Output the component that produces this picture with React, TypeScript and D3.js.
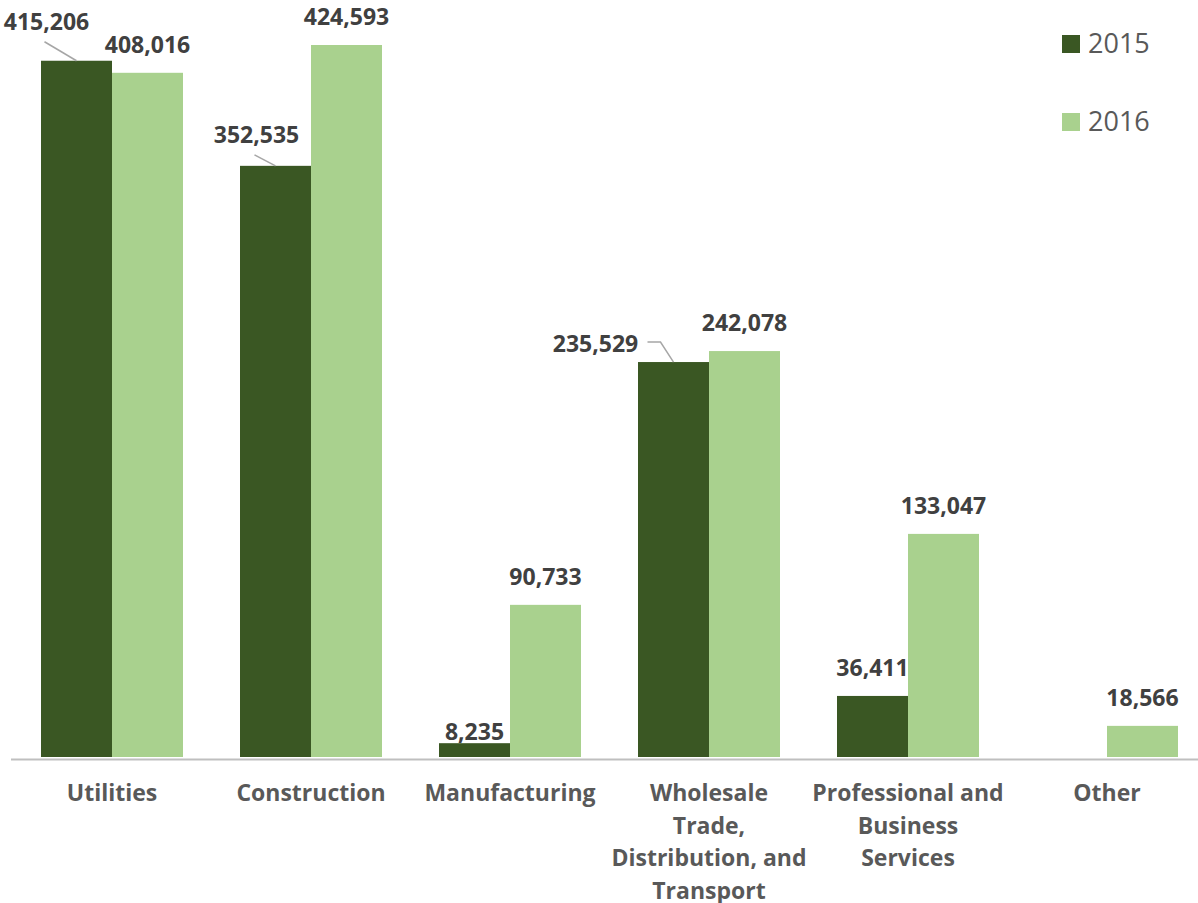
import React from "react";
import * as d3 from "d3";

const categories: string[][] = [
  ["Utilities"],
  ["Construction"],
  ["Manufacturing"],
  ["Wholesale", "Trade,", "Distribution, and", "Transport"],
  ["Professional and", "Business", "Services"],
  ["Other"],
];
const seriesNames = ["2015", "2016"];
const values2015: (number | null)[] = [415206, 352535, 8235, 235529, 36411, null];
const values2016: (number | null)[] = [408016, 424593, 90733, 242078, 133047, 18566];
const colors = ["#3a5723", "#a9d18e"];

// manual label placements (pixel offsets from default position) with leader lines
const labelOffsets: Record<string, { dx: number; dy: number; leader?: "diag" | "elbow" }> = {
  "0-0": { dx: -30, dy: -11, leader: "diag" },
  "0-1": { dx: -19, dy: -3, leader: "diag" },
  "0-2": { dx: 0, dy: 17 },
  "0-3": { dx: -78, dy: 10, leader: "elbow" },
};

const W = 1198;
const H = 903;

export default function App() {
  const x0 = d3
    .scaleBand<number>()
    .domain(categories.map((_, i) => i))
    .range([12.5, 1206.5])
    .padding(0);
  const x1 = d3
    .scaleBand<number>()
    .domain([0, 1])
    .range([28.5, 170.5])
    .padding(0);
  const y = d3.scaleLinear().domain([0, 424593]).range([757, 45]);
  const fmt = d3.format(",");
  const series = [values2015, values2016];

  const bars: React.ReactNode[] = [];
  const labels: React.ReactNode[] = [];
  series.forEach((vals, s) => {
    vals.forEach((v, i) => {
      if (v == null) return;
      const bx = (x0(i) as number) + (x1(s) as number);
      const bw = x1.bandwidth();
      const top = y(v);
      bars.push(
        <rect key={`b${s}-${i}`} x={bx} y={top} width={bw} height={y(0) - top} fill={colors[s]} />
      );
      const key = `${s}-${i}`;
      const off = labelOffsets[key] || { dx: 0, dy: 0 };
      const cx = bx + bw / 2 + off.dx;
      const by = top - 20 + off.dy;
      labels.push(
        <text
          key={`l${key}`}
          x={cx}
          y={by}
          textAnchor="middle"
          fontFamily="'Open Sans', sans-serif"
          fontWeight={700}
          fontSize={23}
          fill="#404040"
        >
          {fmt(v)}
        </text>
      );
      if (off.leader === "diag") {
        labels.push(
          <line
            key={`ld${key}`}
            x1={cx - 2}
            y1={by + 12}
            x2={bx + bw / 2}
            y2={top}
            stroke="#a6a6a6"
            strokeWidth={1.5}
          />
        );
      } else if (off.leader === "elbow") {
        const sx = cx + 52;
        const sy = by - 10;
        labels.push(
          <polyline
            key={`le${key}`}
            points={`${sx},${sy} ${sx + 13},${sy} ${bx + bw / 2},${top}`}
            fill="none"
            stroke="#a6a6a6"
            strokeWidth={1.5}
          />
        );
      }
    });
  });

  return (
    <svg
      width={W}
      height={H}
      style={{ position: "absolute", left: 0, top: 0, background: "#fff" }}
    >
      {bars}
      <line x1={11} x2={1198} y1={y(0) + 2.5} y2={y(0) + 2.5} stroke="#bfbfbf" strokeWidth={2} />
      {labels}
      {categories.map((lines, i) => (
        <text
          key={`c${i}`}
          x={(x0(i) as number) + x0.bandwidth() / 2}
          y={801}
          textAnchor="middle"
          fontFamily="'Open Sans', sans-serif"
          fontWeight={700}
          fontSize={23}
          fill="#595959"
        >
          {lines.map((ln, j) => (
            <tspan key={j} x={(x0(i) as number) + x0.bandwidth() / 2} dy={j === 0 ? 0 : 32.5}>
              {ln}
            </tspan>
          ))}
        </text>
      ))}
      {seriesNames.map((name, s) => (
        <g key={`lg${s}`} transform={`translate(1062, ${35 + s * 78})`}>
          <rect x={0} y={0} width={18} height={18} fill={colors[s]} />
          <text
            x={26}
            y={18}
            fontFamily="'Open Sans', sans-serif"
            fontSize={27}
            fill="#595959"
          >
            {name}
          </text>
        </g>
      ))}
    </svg>
  );
}
